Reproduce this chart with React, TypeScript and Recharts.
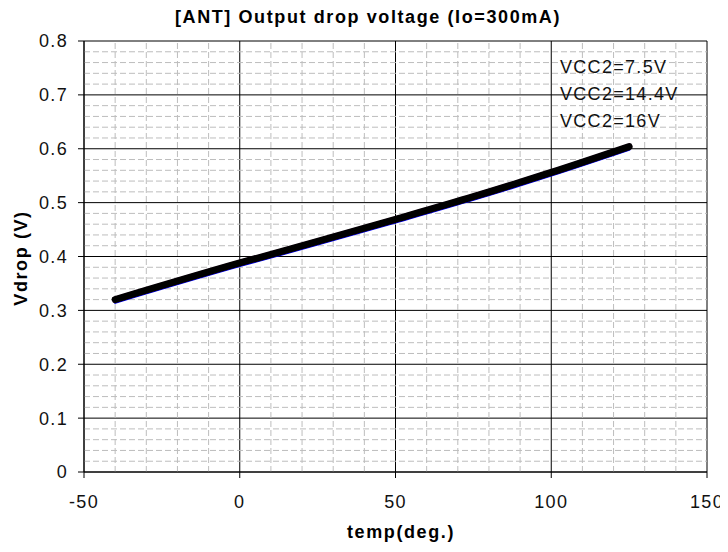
import {
  CartesianGrid,
  Legend,
  Line,
  LineChart,
  ReferenceLine,
  XAxis,
  YAxis
} from 'recharts';

const temps = [-40, 0, 25, 50, 75, 100, 125];
const vcc75 = [0.315, 0.383, 0.423, 0.464, 0.506, 0.551, 0.599];
const vcc144 = [0.32, 0.388, 0.428, 0.469, 0.511, 0.556, 0.604];
const vcc16 = [0.32, 0.388, 0.428, 0.469, 0.511, 0.556, 0.604];
const seriesNames = ['VCC2=7.5V', 'VCC2=14.4V', 'VCC2=16V'];

const xTicks = [-50, 0, 50, 100, 150];
const yTicks = [0, 0.1, 0.2, 0.3, 0.4, 0.5, 0.6, 0.7, 0.8];
const xMinor = [-40, -30, -20, -10, 10, 20, 30, 40, 60, 70, 80, 90, 110, 120, 130, 140];
const yMinor = [
  0.02, 0.04, 0.06, 0.08, 0.12, 0.14, 0.16, 0.18, 0.22, 0.24, 0.26, 0.28,
  0.32, 0.34, 0.36, 0.38, 0.42, 0.44, 0.46, 0.48, 0.52, 0.54, 0.56, 0.58,
  0.62, 0.64, 0.66, 0.68, 0.72, 0.74, 0.76, 0.78
];

const data = temps.map((t, i) => ({ t, a: vcc75[i], b: vcc144[i], c: vcc16[i] }));

const FONT = '"Liberation Sans", Arial, sans-serif';
const tickStyle = { fontSize: 18, fill: '#111', fontFamily: FONT, letterSpacing: 1.3 };
const boldText = { fontFamily: FONT, fontWeight: 700, fontSize: 18, letterSpacing: 1.6, color: '#000' };

// legend drawn as plain text lines, in series order
const LegendText = (props: any) => {
  const items = [...(props.payload || [])].sort(
    (p: any, q: any) => seriesNames.indexOf(p.value) - seriesNames.indexOf(q.value)
  );
  return (
    <div style={{ fontFamily: FONT, fontSize: 18, letterSpacing: 1.3, lineHeight: '27px', color: '#111' }}>
      {items.map((p: any) => (
        <div key={p.value}>{p.value}</div>
      ))}
    </div>
  );
};

export default function App() {
  return (
    <div style={{ position: 'relative', width: 728, height: 552, marginLeft: -8, marginTop: -8, background: '#fff' }}>
      <div style={{ ...boldText, position: 'absolute', top: 7, left: 0, width: 736, textAlign: 'center', whiteSpace: 'nowrap' }}>
        [ANT] Output drop voltage (Io=300mA)
      </div>
      <div
        style={{
          ...boldText,
          position: 'absolute',
          left: 21,
          top: 258,
          transform: 'translate(-50%, -50%) rotate(-90deg)',
          whiteSpace: 'nowrap'
        }}
      >
        Vdrop (V)
      </div>
      <div
        style={{
          ...boldText,
          position: 'absolute',
          left: 401,
          top: 532,
          transform: 'translate(-50%, -50%)',
          whiteSpace: 'nowrap'
        }}
      >
        temp(deg.)
      </div>
      <LineChart width={728} height={552} data={data} margin={{ top: 41, right: 21, bottom: 0, left: 24 }}>
        <CartesianGrid stroke="#000" strokeWidth={1} />
        {xMinor.map((v) => (
          <ReferenceLine key={'x' + v} x={v} stroke="#bdbdbd" strokeDasharray="6 3" />
        ))}
        {yMinor.map((v) => (
          <ReferenceLine key={'y' + v} y={v} stroke="#bdbdbd" strokeDasharray="6 3" />
        ))}
        <XAxis
          dataKey="t"
          type="number"
          domain={[-50, 150]}
          ticks={xTicks}
          height={80}
          stroke="#000"
          tickSize={6}
          tickMargin={17}
          tick={tickStyle}
          allowDataOverflow
        />
        <YAxis
          type="number"
          domain={[0, 0.8]}
          ticks={yTicks}
          width={60}
          stroke="#000"
          tickSize={6}
          tickMargin={10}
          tick={tickStyle}
          allowDataOverflow
        />
        <Legend
          layout="vertical"
          align="center"
          verticalAlign="middle"
          content={LegendText}
          wrapperStyle={{ top: 54, left: 560, width: 140 }}
        />
        <Line
          type="monotone"
          dataKey="a"
          name={seriesNames[0]}
          stroke="#0000ff"
          strokeWidth={3}
          dot={false}
          strokeLinecap="round"
          isAnimationActive={false}
        />
        <Line
          type="monotone"
          dataKey="b"
          name={seriesNames[1]}
          stroke="#ff00ff"
          strokeWidth={6}
          dot={false}
          strokeLinecap="round"
          isAnimationActive={false}
        />
        <Line
          type="monotone"
          dataKey="c"
          name={seriesNames[2]}
          stroke="#000"
          strokeWidth={7}
          dot={false}
          strokeLinecap="round"
          isAnimationActive={false}
        />
      </LineChart>
    </div>
  );
}
